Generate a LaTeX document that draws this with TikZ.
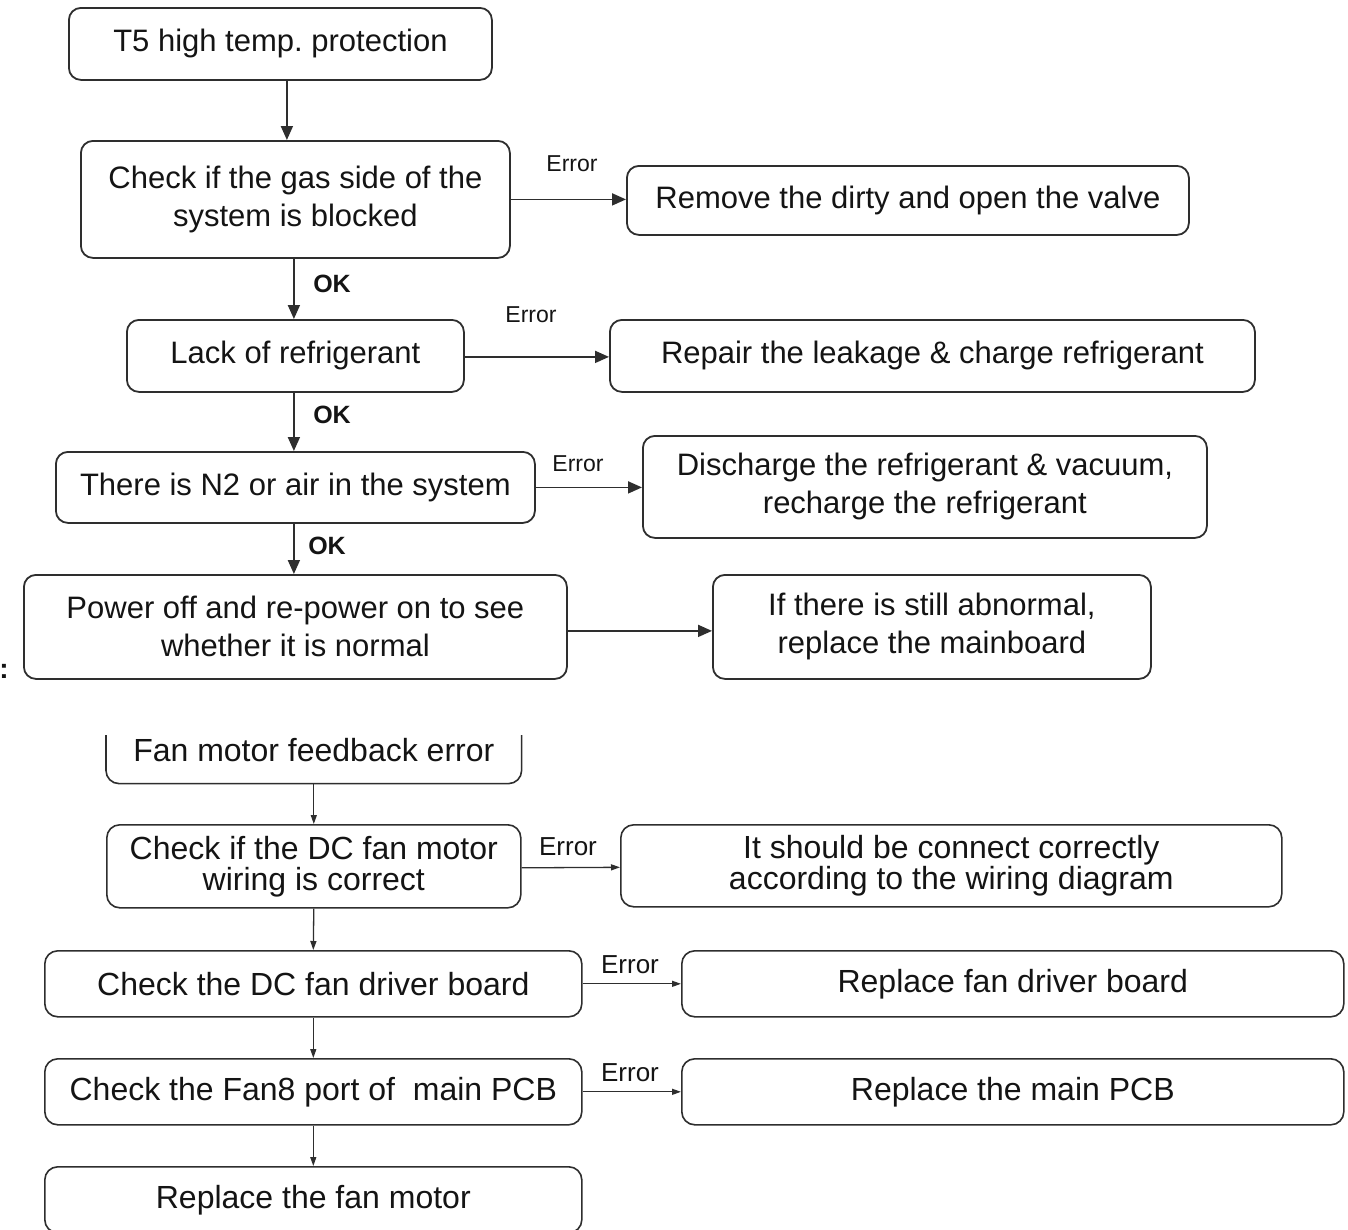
\documentclass[tikz,border=0pt]{standalone}
\usepackage{fontspec}
\setmainfont{Liberation Sans}
\usetikzlibrary{arrows.meta}
\definecolor{linec}{HTML}{2E2E2E}
\definecolor{txtc}{HTML}{141414}
\frenchspacing
\tikzset{
  boxT/.style={draw=linec, line width=1.8pt, rounded corners=12pt, align=center, inner sep=0pt,
    anchor=north west, text=txtc, font=\fontsize{31}{38}\selectfont},
  boxL/.style={draw=linec, line width=1.6pt, rounded corners=13pt, align=center, inner sep=0pt,
    anchor=north west, text=txtc, font=\fontsize{32}{31}\selectfont},
  arrT/.style={draw=linec, line width=1.8pt, -{Triangle[length=14pt,width=12pt]}},
  arrL/.style={draw=linec, line width=1.3pt, -{Triangle[length=9pt,width=6pt]}},
  errT/.style={text=txtc, font=\fontsize{23}{26}\selectfont, inner sep=0pt},
  errL/.style={text=txtc, font=\fontsize{26}{28}\selectfont, inner sep=0pt},
  okl/.style={text=txtc, font=\fontsize{25}{28}\selectfont\bfseries, inner sep=0pt},
}
\begin{document}
\begin{tikzpicture}[x=1pt,y=-1pt]
\fill[white] (0,0) rectangle (1348,1229);
\useasboundingbox (0,0) rectangle (1348,1229);

% ---------- upper flowchart ----------
\node[boxT, minimum width=423pt, minimum height=72pt] (t5) at (68,7) {T5 high temp. protection};
\node[boxT, minimum width=429pt, minimum height=117pt] (chk) at (80,140) {Check if the gas side of the\\system is blocked};
\node[boxT, minimum width=562pt, minimum height=69pt] (rem) at (626,165) {Remove the dirty and open the valve};
\node[boxT, minimum width=337pt, minimum height=72pt] (lack) at (126,319) {Lack of refrigerant};
\node[boxT, minimum width=645pt, minimum height=72pt] (rep) at (609,319) {Repair the leakage \& charge refrigerant};
\node[boxT, minimum width=479pt, minimum height=71pt] (ntwo) at (55,451) {There is N2 or air in the system};
\node[boxT, minimum width=564pt, minimum height=102pt] (dis) at (642,435) {Discharge the refrigerant \& vacuum,\\recharge the refrigerant};
\node[boxT, minimum width=543pt, minimum height=104pt] (pow) at (23,574) {Power off and re-power on to see\\whether it is normal};
\node[boxT, minimum width=438pt, minimum height=104pt] (ifn) at (712,574) {If there is still abnormal,\\replace the mainboard};

\draw[arrT] ([xshift=6.5pt]t5.south) -- ([xshift=-8.5pt]chk.north);
\draw[arrT] ([xshift=-1.5pt]chk.south) -- ([xshift=-1.5pt]lack.north);
\draw[arrT] ([xshift=-1.5pt]lack.south) -- ([xshift=-1.5pt]ntwo.north);
\draw[arrT] ([xshift=-1.5pt]ntwo.south) -- ([xshift=-1.5pt]pow.north);

\draw[arrT] (chk.east) -- (rem.west |- chk.east);
\draw[arrT] ([yshift=-1pt]lack.east) -- ([yshift=-1pt]rep.west);
\draw[arrT] (ntwo.east) -- (dis.west |- ntwo.east);
\draw[arrT] ([yshift=-4pt]pow.east) -- ([yshift=-4pt]ifn.west);

\node[errT] (e1) at (572,164) {Error};
\node[errT] (e2) at (531,315) {Error};
\node[errT] (e3) at (578,464) {Error};
\node[okl] (ok1) at (332,284) {OK};
\node[okl] (ok2) at (332,415) {OK};
\node[okl] (ok3) at (327,546) {OK};

\node[text=txtc, font=\fontsize{28}{30}\selectfont\bfseries, inner sep=0pt] (colon) at (4,671) {:};

% ---------- lower flowchart ----------
\node[boxL, draw=none, minimum width=414pt, minimum height=66pt] (fm) at (106,716) {Fan motor feedback error};
\draw[draw=linec, line width=1.6pt, rounded corners=13pt]
  ([yshift=-19pt]fm.north west) -- (fm.south west) -- (fm.south east) -- ([yshift=-19pt]fm.north east);
\node[boxL, minimum width=414pt, minimum height=83pt] (wir) at (106,824) {Check if the DC fan motor\\wiring is correct};
\node[boxL, minimum width=661pt, minimum height=82pt] (its) at (620,824) {It should be connect correctly\\according to the wiring diagram};
\node[boxL, minimum width=537pt, minimum height=66pt] (drv) at (44,950) {Check the DC fan driver board};
\node[boxL, minimum width=662pt, minimum height=66pt] (rdrv) at (681,950) {Replace fan driver board};
\node[boxL, minimum width=537pt, minimum height=66pt] (fan8) at (44,1058) {Check the Fan8 port of\ \ main PCB};
\node[boxL, minimum width=662pt, minimum height=66pt] (rpcb) at (681,1058) {Replace the main PCB};
\node[boxL, minimum width=537pt, minimum height=66pt] (rfm) at (44,1166) {Replace the fan motor};

\draw[arrL] (fm.south) -- (wir.north);
\draw[arrL] (wir.south) -- (drv.north);
\draw[arrL] (drv.south) -- (fan8.north);
\draw[arrL] (fan8.south) -- (rfm.north);

\draw[arrL] ([yshift=-1.5pt]wir.east) -- ([yshift=-1.5pt]its.west);
\draw[arrL] (drv.east) -- (rdrv.west);
\draw[arrL] (fan8.east) -- (rpcb.west);

\node[errL] (e4) at (568,847) {Error};
\node[errL] (e5) at (630,965) {Error};
\node[errL] (e6) at (630,1073) {Error};
\end{tikzpicture}
\end{document}
